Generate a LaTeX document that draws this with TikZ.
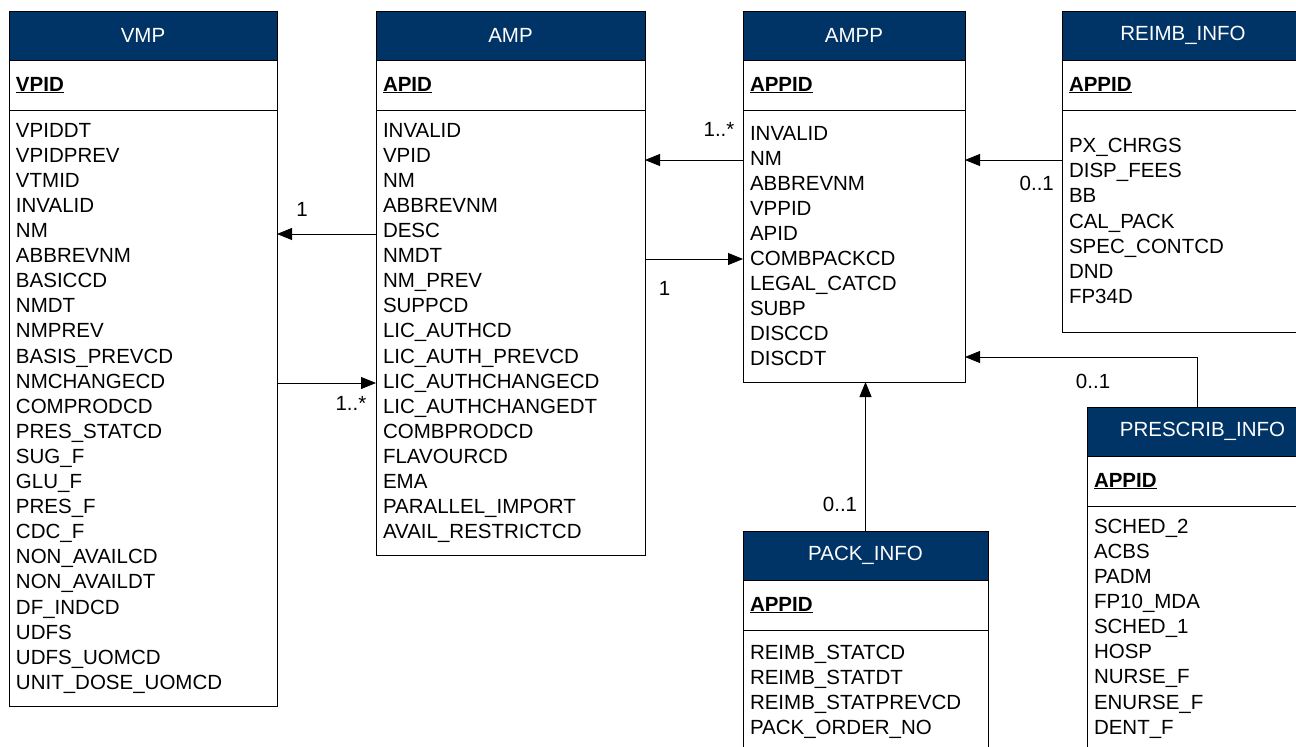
\documentclass[tikz,border=0pt]{standalone}
\usepackage{fontspec}
\setmainfont{Liberation Sans}
\usetikzlibrary{arrows.meta,positioning}
\definecolor{hdblue}{RGB}{0,51,102}
\newcommand{\pk}[1]{\underline{\textbf{#1}}}
\begin{document}
\begin{tikzpicture}[x=1pt,y=-1pt,line width=1pt,
    font=\fontsize{20.5}{25.1}\selectfont]
    \tikzset{tbl/.style={draw, anchor=north west, outer sep=0pt, inner xsep=7pt, text width=#1},
        hd/.style={tbl=#1, fill=hdblue, text=white, align=center, inner ysep=0pt, minimum height=49pt},
        key/.style={tbl=#1, align=left, inner ysep=0pt, minimum height=50pt},
        fld/.style 2 args={tbl=#1, align=left, inner ysep=13pt, minimum height=#2},
        assoc/.style={line width=0.8pt, -{Triangle[length=15pt,width=12pt]}},
        mult/.style={inner sep=0pt}}
    \useasboundingbox (0,0) rectangle (1296,747);
    \clip (0,0) rectangle (1296,747);

    %VMP
    \node[hd=254pt] (vmph) at (9,11) {VMP};
    \node[key=254pt] (vmpk) at (vmph.south west) {\pk{VPID}};
    \node[fld={254pt}{595pt}] (vmpb) at (vmpk.south west) {VPIDDT\\VPIDPREV\\VTMID\\INVALID\\NM\\ABBREVNM\\BASICCD\\NMDT\\NMPREV\\BASIS\_PREVCD\\NMCHANGECD\\COMPRODCD\\PRES\_STATCD\\SUG\_F\\GLU\_F\\PRES\_F\\CDC\_F\\NON\_AVAILCD\\NON\_AVAILDT\\DF\_INDCD\\UDFS\\UDFS\_UOMCD\\UNIT\_DOSE\_UOMCD};

    %AMP
    \node[hd=255pt] (amph) at (376,11) {AMP};
    \node[key=255pt] (ampk) at (amph.south west) {\pk{APID}};
    \node[fld={255pt}{444pt}] (ampb) at (ampk.south west) {INVALID\\VPID\\NM\\ABBREVNM\\DESC\\NMDT\\NM\_PREV\\SUPPCD\\LIC\_AUTHCD\\LIC\_AUTH\_PREVCD\\LIC\_AUTHCHANGECD\\LIC\_AUTHCHANGEDT\\COMBPRODCD\\FLAVOURCD\\EMA\\PARALLEL\_IMPORT\\AVAIL\_RESTRICTCD};

    %AMPP
    \node[hd=208pt] (ampph) at (743,11) {AMPP};
    \node[key=208pt] (amppk) at (ampph.south west) {\pk{APPID}};
    \node[fld={208pt}{272pt}] (amppb) at (amppk.south west) {INVALID\\NM\\ABBREVNM\\VPPID\\APID\\COMBPACKCD\\LEGAL\_CATCD\\SUBP\\DISCCD\\DISCDT};

    %REIMB_INFO
    \node[hd=228pt] (reimbh) at (1062,11) {REIMB\_INFO};
    \node[key=228pt] (reimbk) at (reimbh.south west) {\pk{APPID}};
    \node[fld={228pt}{222pt}] (reimbb) at (reimbk.south west) {PX\_CHRGS\\DISP\_FEES\\BB\\CAL\_PACK\\SPEC\_CONTCD\\DND\\FP34D};

    %PACK_INFO
    \node[hd=231pt] (packh) at (743,531) {PACK\_INFO};
    \node[key=231pt] (packk) at (packh.south west) {\pk{APPID}};
    \node[fld={231pt}{0pt}, inner ysep=15pt] (packb) at (packk.south west) {REIMB\_STATCD\\REIMB\_STATDT\\REIMB\_STATPREVCD\\PACK\_ORDER\_NO};

    %PRESCRIB_INFO
    \node[hd=217pt] (presh) at (1087,407) {PRESCRIB\_INFO};
    \node[key=217pt] (presk) at (presh.south west) {\pk{APPID}};
    \node[fld={217pt}{0pt}] (presb) at (presk.south west) {SCHED\_2\\ACBS\\PADM\\FP10\_MDA\\SCHED\_1\\HOSP\\NURSE\_F\\ENURSE\_F\\DENT\_F};

    %Beziehungen
    \draw[assoc] (ampb.west |- 0,234) -- (vmpb.east |- 0,234)      node[mult, pos=0.747, above=17pt] (m1) {1};
    \draw[assoc] (vmpb.east |- 0,383) -- (ampb.west |- 0,383)      node[mult, pos=0.747, below=13pt] (m2) {1..*};
    \draw[assoc] (amppb.west |- 0,160) -- (ampb.east |- 0,160)     node[mult, pos=0.245, above=23pt] (m3) {1..*};
    \draw[assoc] (ampb.east |- 0,259) -- (amppb.west |- 0,259)     node[mult, pos=0.2, below=22pt] (m4) {1};
    \draw[assoc] (reimbb.west |- 0,160) -- (amppb.east |- 0,160)   node[mult, pos=0.26, below=16pt] (m5) {0..1};
    \draw[assoc] ([xshift=110pt]presh.north west) |- (amppb.east |- 0,357) node[mult, pos=0.724, below=17pt] (m6) {0..1};
    \draw[assoc] (packh.north) -- (packh.north |- amppb.south)     node[mult, pos=0.175, left=8pt] (m7) {0..1};

\end{tikzpicture}
\end{document}
